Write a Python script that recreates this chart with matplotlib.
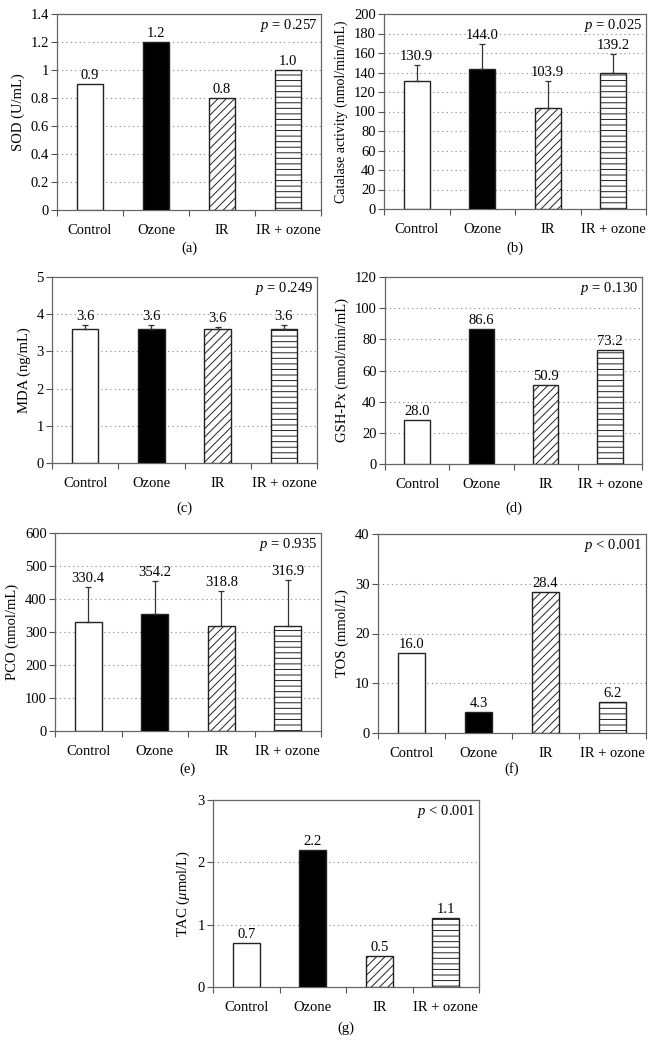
import numpy as np
import matplotlib
matplotlib.use("Agg")
import matplotlib.pyplot as plt
from matplotlib.ticker import FuncFormatter

plt.rcParams['font.family'] = ['Liberation Serif', 'DejaVu Serif']
plt.rcParams['mathtext.fontset'] = 'custom'
plt.rcParams['mathtext.rm'] = 'Liberation Serif'
plt.rcParams['mathtext.it'] = 'Liberation Serif:italic'
plt.rcParams['hatch.linewidth'] = 0.7

groups = ['Control', 'Ozone', 'IR', 'IR + ozone']

sod = [0.9, 1.2, 0.8, 1.0]
catalase = [130.9, 144.0, 103.9, 139.2]
catalase_err = [17, 25, 27, 20]
mda = [3.6, 3.6, 3.6, 3.6]
mda_err = [0.1, 0.1, 0.05, 0.1]
gshpx = [28.0, 86.6, 50.9, 73.2]
pco = [330.4, 354.2, 318.8, 316.9]
pco_err = [107, 99, 104, 140]
tos = [16.0, 4.3, 28.4, 6.2]
tac = [0.7, 2.2, 0.5, 1.1]

ylabels = ['SOD (U/mL)', 'Catalase activity (nmol/min/mL)', 'MDA (ng/mL)',
           'GSH-Px (nmol/min/mL)', 'PCO (nmol/mL)', 'TOS (mmol/L)',
           r'TAC ($\mathit{\mu}$mol/L)']
pvals = ['= 0.257', '= 0.025', '= 0.249', '= 0.130', '= 0.935', '< 0.001', '< 0.001']
letters = ['(a)', '(b)', '(c)', '(d)', '(e)', '(f)', '(g)']
ymax = [1.4, 200, 5, 120, 600, 40, 3]
ystep = [0.2, 20, 1, 20, 100, 10, 1]

W, H = 655, 1043
# left, right, top, bottom in pixels; label y
boxes = [(57, 321, 14, 210, 248), (384, 646, 14, 209, 248),
         (52, 317, 277, 463, 508), (385, 642, 277, 464, 508),
         (55, 321, 533, 731, 769), (378, 646, 534, 733, 769),
         (213, 479, 800, 987, 1028)]

fills = ['white', 'black', 'white', 'white']
hatches = [None, None, '////', '---']

fig = plt.figure(figsize=(W / 100, H / 100), dpi=100)

data = [(sod, None), (catalase, catalase_err), (mda, mda_err), (gshpx, None),
        (pco, pco_err), (tos, None), (tac, None)]

for i, (vals, err) in enumerate(data):
    l, r, t, b, ly = boxes[i]
    ax = fig.add_axes([l / W, 1 - b / H, (r - l) / W, (b - t) / H])
    x = np.arange(4)
    for j in range(4):
        ax.bar(x[j], vals[j], width=0.4, color=fills[j], hatch=hatches[j],
               edgecolor='#222222', linewidth=1.0, zorder=3)
    tops = list(vals)
    if err is not None:
        ax.errorbar(x, vals, yerr=[np.zeros(4), err], fmt='none', ecolor='#333333',
                    elinewidth=0.9, capsize=2.5, capthick=0.9, zorder=4)
        tops = [v + e for v, e in zip(vals, err)]
    for j in range(4):
        ax.annotate('%.1f' % vals[j], (x[j], tops[j]), xytext=(0, 1.5),
                    textcoords='offset points', ha='center', va='bottom',
                    fontsize=10.5)
    ax.set_xlim(-0.5, 3.5)
    ax.set_ylim(0, ymax[i])
    ticks = np.arange(0, ymax[i] + ystep[i] / 2, ystep[i])
    ax.set_yticks(ticks)
    ax.yaxis.set_major_formatter(FuncFormatter(lambda v, p: '%g' % round(v, 2)))
    for yv in ticks[1:-1]:
        ax.axhline(yv, color='#888888', linestyle=(0, (1, 3)), linewidth=0.8, zorder=1)
    ax.set_xticks([-0.5, 0.5, 1.5, 2.5, 3.5])
    ax.set_xticklabels([])
    ax.set_xticks(x, minor=True)
    ax.set_xticklabels(groups, minor=True)
    ax.tick_params(axis='x', which='major', direction='out', length=4, color='#555555')
    ax.tick_params(axis='x', which='minor', length=0, pad=10, labelsize=10.5)
    ax.tick_params(axis='y', direction='out', length=4, color='#555555', labelsize=10.5, pad=2)
    for s in ax.spines.values():
        s.set_color('#666666')
        s.set_linewidth(0.9)
    ax.set_ylabel(ylabels[i], fontsize=10.5 if i != 1 else 10, labelpad=4)
    ax.text(0.985, 0.985, r'$\mathit{p}$ ' + pvals[i], transform=ax.transAxes,
            ha='right', va='top', fontsize=10.5)
    fig.text((l + r) / 2 / W, 1 - ly / H, letters[i], ha='center', va='center',
             fontsize=10.5)

fig.savefig('out.png', dpi=100)
